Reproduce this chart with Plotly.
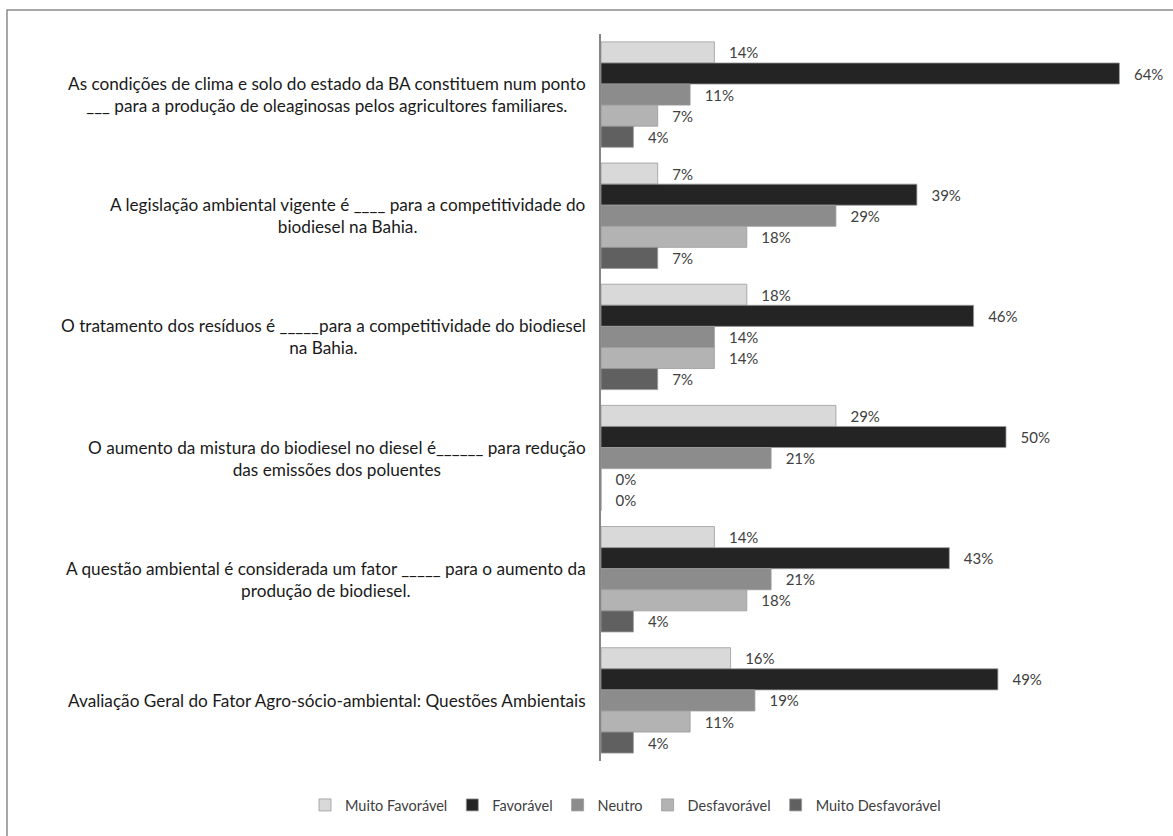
import plotly.graph_objects as go

categories = [
    "As condições de clima e solo do estado da BA constituem num ponto<br>___ para a produção de oleaginosas pelos agricultores familiares.",
    "A legislação ambiental vigente é ____ para a competitividade do<br>biodiesel na Bahia.",
    "O tratamento dos resíduos é _____para a competitividade do biodiesel<br>na Bahia.",
    "O aumento da mistura do biodiesel no diesel é______ para redução<br>das emissões dos poluentes",
    "A questão ambiental é considerada um fator _____ para o aumento da<br>produção de biodiesel.",
    "Avaliação Geral do Fator Agro-sócio-ambiental: Questões Ambientais",
]
series_names = ["Muito Favorável", "Favorável", "Neutro", "Desfavorável", "Muito Desfavorável"]
muito_favoravel = [14, 7, 18, 29, 14, 16]
favoravel = [64, 39, 46, 50, 43, 49]
neutro = [11, 29, 14, 21, 21, 19]
desfavoravel = [7, 18, 14, 0, 18, 11]
muito_desfavoravel = [4, 7, 7, 0, 4, 4]
series_values = [muito_favoravel, favoravel, neutro, desfavoravel, muito_desfavoravel]
colors = ["#d9d9d9", "#242424", "#8c8c8c", "#b3b3b3", "#606060"]

FONT = "Lato, Liberation Sans, sans-serif"
W, H = 1173, 836
ML, MR, MT, MB = 601, 5, 34, 75
X_MAX = 70

fig = go.Figure()
for name, vals, col in zip(series_names, series_values, colors):
    fig.add_trace(go.Bar(
        y=categories, x=vals, name=name, orientation="h",
        marker=dict(color=col, line=dict(color="#9a9a9a", width=0.8)),
        text=[f"{v}%" for v in vals], textposition="outside",
        texttemplate="   %{text}",
        textfont=dict(family=FONT, size=15, color="#404040"),
        cliponaxis=False,
    ))

pw = W - ML - MR
ph = H - MT - MB
# outer chart border (left/top visible, right/bottom cut off in the frame)
fig.add_shape(type="rect", xref="paper", yref="paper",
              x0=(7 - ML) / pw, x1=(W + 5 - ML) / pw,
              y0=(-5 - MB) / ph, y1=(H - 10 - MB) / ph,
              line=dict(color="#8a8a8a", width=1.5), layer="below")

for cat in categories:
    fig.add_annotation(x=0, xref="paper", y=cat, yref="y", xanchor="right",
                       xshift=-13, text=cat, showarrow=False, align="center",
                       font=dict(family=FONT, size=17.2, color="#1a1a1a"))

fig.update_layout(
    width=W, height=H,
    margin=dict(l=ML, r=MR, t=MT, b=MB),
    paper_bgcolor="white", plot_bgcolor="white",
    barmode="group", bargap=0.13, bargroupgap=0,
    xaxis=dict(range=[0, X_MAX], visible=False, showgrid=False, zeroline=False),
    yaxis=dict(autorange="reversed", showticklabels=False, ticks="",
               showline=True, linecolor="#868686", linewidth=1.5,
               showgrid=False, zeroline=False),
    legend=dict(orientation="h", xref="paper", yref="paper",
                x=(305 - ML) / pw, xanchor="left",
                y=-(805 - (H - MB)) / ph, yanchor="middle",
                font=dict(family=FONT, size=14.5, color="#404040"),
                itemwidth=30, traceorder="normal"),
    showlegend=True,
)

fig.write_html("out.html")
